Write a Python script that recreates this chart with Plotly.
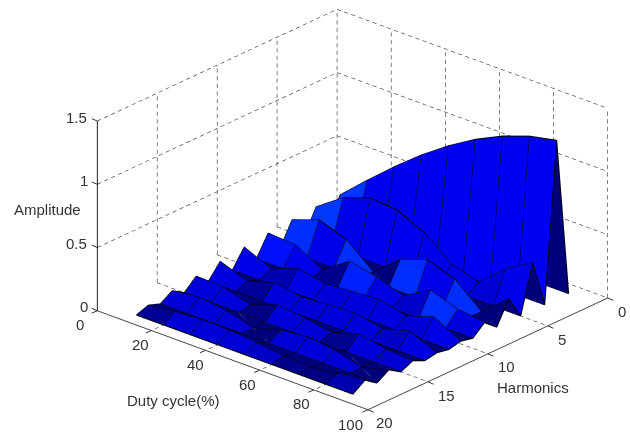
import numpy as np
import plotly.graph_objects as go

duty = [10, 20, 30, 40, 50, 60, 70, 80, 90]
harmonics = list(range(1, 20))
# amplitude rows, one per harmonic index
h01 = [0, 0, 0, 0, 0, 0, 0, 0, 0]
h02 = [.199, .393, .578, .749, .900, 1.030, 1.134, 1.211, 1.257]
h03 = [0, 0, 0, 0, 0, 0, 0, 0, 0]
h04 = [.193, .343, .419, .403, .300, .131, .066, .249, .378]
h05 = [0, 0, 0, 0, 0, 0, 0, 0, 0]
h06 = [.180, .255, .180, 0, .180, .255, .180, 0, .180]
h07 = [0, 0, 0, 0, 0, 0, 0, 0, 0]
h08 = [.162, .147, .028, .173, .129, .056, .180, .107, .083]
h09 = [0, 0, 0, 0, 0, 0, 0, 0, 0]
h10 = [.140, .044, .126, .083, .100, .114, .064, .134, .022]
h11 = [0, 0, 0, 0, 0, 0, 0, 0, 0]
h12 = [.115, .036, .103, .068, .082, .094, .053, .110, .018]
h13 = [0, 0, 0, 0, 0, 0, 0, 0, 0]
h14 = [.087, .079, .015, .093, .069, .030, .097, .058, .044]
h15 = [0, 0, 0, 0, 0, 0, 0, 0, 0]
h16 = [.060, .085, .060, 0, .060, .085, .060, 0, .060]
h17 = [0, 0, 0, 0, 0, 0, 0, 0, 0]
h18 = [.034, .061, .074, .071, .053, .023, .012, .044, .067]
h19 = [0, 0, 0, 0, 0, 0, 0, 0, 0]
rows = [h01, h02, h03, h04, h05, h06, h07, h08, h09, h10,
        h11, h12, h13, h14, h15, h16, h17, h18, h19]

x_ticks = [0, 20, 40, 60, 80, 100]
y_ticks = [0, 5, 10, 15, 20]
z_ticks = [0, 0.5, 1, 1.5]
z_tick_text = ["0", "0.5", "1", "1.5"]

# pixel offsets of the tick labels from their ticks
x_label_shift = [(-17, -14), (-11, -14), (-10, -14), (-12, -14), (-12, -14), (-17, -15)]
y_label_shift = [(14, -14), (14, -14), (19, -13), (19, -14), (17, -13)]

# colour scale: amplitude at a facet's first corner -> green and blue channels
cmap_z = [0, .02, .035, .05, .06, .12, .15, .165, .185, .2, .215, .25, 1.3]
cmap_g = [0, 0, 0, 0, 0, 0, 0, 20, 55, 55, 10, 0, 0]
cmap_b = [125, 135, 150, 195, 212, 225, 235, 255, 255, 255, 240, 235, 245]

Z = np.array(rows, float)
nx, ny = len(duty), len(harmonics)
X = np.array(duty, float)
Y = np.array(harmonics, float)
ZASP = 0.576

vx, vy, vz, I, J, K, FC = [], [], [], [], [], [], []
for j in range(ny):
    for i in range(nx):
        vx.append(X[i]); vy.append(Y[j]); vz.append(Z[j, i])

for j in range(ny - 1):
    for i in range(nx - 1):
        a = j * nx + i
        b = a + 1
        c = a + nx + 1
        d = a + nx
        g_ch = np.interp(Z[j, i], cmap_z, cmap_g)
        b_ch = np.interp(Z[j, i], cmap_z, cmap_b)
        col = f"rgb(0,{int(g_ch)},{int(b_ch)})"
        I += [a, a]; J += [b, c]; K += [c, d]; FC += [col, col]

fig = go.Figure()
fig.add_trace(go.Mesh3d(x=vx, y=vy, z=vz, i=I, j=J, k=K, facecolor=FC, flatshading=True,
                        lighting=dict(ambient=1, diffuse=0, specular=0, fresnel=0, roughness=1),
                        hoverinfo="skip", showscale=False))

ex, ey, ez = [], [], []
for j in range(ny):
    ex += list(X) + [None]; ey += [Y[j]] * nx + [None]; ez += list(Z[j]) + [None]
for i in range(nx):
    ex += [X[i]] * ny + [None]; ey += list(Y) + [None]; ez += list(Z[:, i]) + [None]
fig.add_trace(go.Scatter3d(x=ex, y=ey, z=ez, mode="lines", line=dict(color="black", width=2),
                           hoverinfo="skip", showlegend=False))

gx, gy, gz = [], [], []


def dashed(p0, p1, npx):
    """Append a dashed grid line between two axis-tick positions (npx = its screen length)."""
    count = int(npx / 7.5)
    for t in range(count):
        for f in (t / count, (t + 0.55) / count, None):
            if f is None:
                gx.append(None); gy.append(None); gz.append(None)
            else:
                gx.append(p0[0] + (p1[0] - p0[0]) * f)
                gy.append(p0[1] + (p1[1] - p0[1]) * f)
                gz.append(p0[2] + (p1[2] - p0[2]) * f)


for zt in z_ticks[1:]:
    dashed((0, 20, zt), (0, 0, zt), 264)
    dashed((0, 0, zt), (100, 0, zt), 288)
for yt in y_ticks[:-1]:
    dashed((0, yt, 0), (0, yt, 1.5), 190)
    dashed((0, yt, 0), (100, yt, 0), 288)
for xt in x_ticks[1:]:
    dashed((xt, 0, 0), (xt, 0, 1.5), 190)
    dashed((xt, 0, 0), (xt, 20, 0), 264)
fig.add_trace(go.Scatter3d(x=gx, y=gy, z=gz, mode="lines",
                           line=dict(color="#333333", width=1.2),
                           hoverinfo="skip", showlegend=False))

FONT = dict(family="Liberation Sans, Arial", size=15, color="#333333")
common = dict(showgrid=False, zeroline=False, showbackground=False, showspikes=False,
              showline=True, linewidth=2, ticks="", showticklabels=False, title=dict(text=""))

tick_labels = []
for v, (sx, sy) in zip(x_ticks, x_label_shift):
    tick_labels.append(dict(x=v, y=20, z=0, text=str(v), xshift=sx, yshift=sy))
for v, (sx, sy) in zip(y_ticks, y_label_shift):
    tick_labels.append(dict(x=100, y=v, z=0, text=str(v), xshift=sx, yshift=sy))
for v, t in zip(z_ticks, z_tick_text):
    tick_labels.append(dict(x=0, y=20, z=v, text=t, xshift=-(10 + 3.7 * len(t)), yshift=4))
for t in tick_labels:
    t.update(showarrow=False, xanchor="center", yanchor="middle", font=FONT)

tick_marks = []
for v in x_ticks:
    tick_marks.append(dict(x=v, y=20, z=0, ax=-7, ay=3))
for v in y_ticks:
    tick_marks.append(dict(x=100, y=v, z=0, ax=7, ay=3))
for v in z_ticks:
    tick_marks.append(dict(x=0, y=20, z=v, ax=-7, ay=-3))
for t in tick_marks:
    t.update(text=" ", showarrow=True, arrowhead=0, arrowwidth=1, arrowcolor="#333333", standoff=0,
             font=dict(size=1))

L = 0.927
S = 1.674
C = (-0.1218, -0.1244, -0.0274)
fig.update_layout(
    width=630, height=432, margin=dict(l=0, r=0, t=0, b=0),
    paper_bgcolor="white", showlegend=False,
    scene=dict(
        domain=dict(x=[0, 1], y=[0, 1]),
        xaxis=dict(range=[0, 100], tickvals=x_ticks, linecolor="#444444", **common),
        yaxis=dict(range=[20, 0], tickvals=y_ticks, linecolor="#444444", **common),
        zaxis=dict(range=[0, 1.5], tickvals=z_ticks, linecolor="black", **common),
        aspectmode="manual", aspectratio=dict(x=S, y=S, z=ZASP * S),
        camera=dict(projection=dict(type="orthographic"),
                    eye=dict(x=0.604 * L + C[0], y=-0.682 * L + C[1], z=0.413 * L + C[2]),
                    up=dict(x=0, y=0, z=1), center=dict(x=C[0], y=C[1], z=C[2])),
        annotations=tick_labels + tick_marks,
    ),
    annotations=[
        dict(text="Amplitude", x=47 / 630, y=1 - 209 / 432),
        dict(text="Duty cycle(%)", x=173 / 630, y=1 - 400 / 432),
        dict(text="Harmonics", x=533 / 630, y=1 - 387 / 432),
    ],
)
for a in fig.layout.annotations:
    a.update(xref="paper", yref="paper", showarrow=False, xanchor="center", yanchor="middle", font=FONT)
fig.write_html("out.html", post_script="document.body.style.margin='0';",
               config=dict(displayModeBar=False))
